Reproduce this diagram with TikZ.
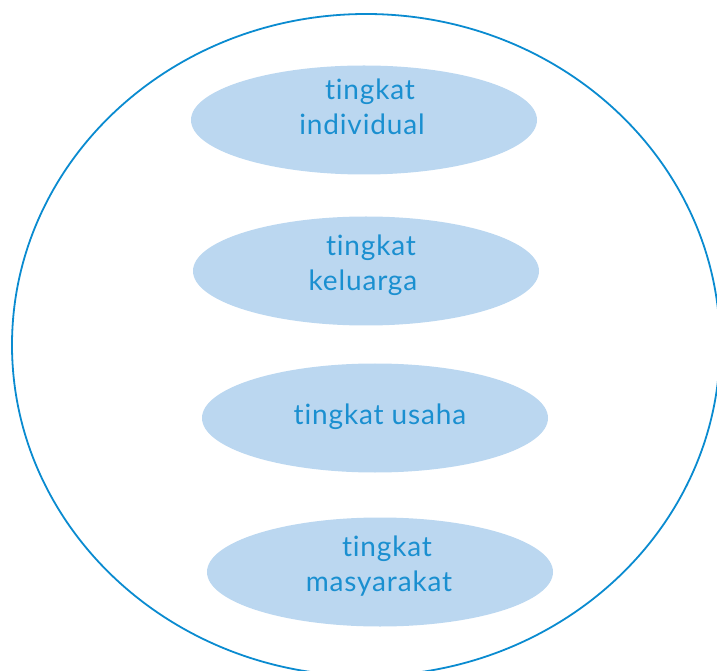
\documentclass[tikz,border=0pt]{standalone}
\usepackage{fontspec}
\setmainfont{Lato}[Ligatures=NoCommon, LetterSpace=3]
\usetikzlibrary{shapes.geometric}
\definecolor{lineblue}{HTML}{0A8BD0}
\definecolor{fillblue}{HTML}{BBD7F0}
\definecolor{textblue}{HTML}{1A8FD0}
\tikzset{
  level/.style={ellipse, fill=fillblue, draw=none, minimum width=346pt, minimum height=109pt, inner sep=0pt},
  lbl/.style={text=textblue, font=\fontsize{28}{35}\selectfont, inner sep=0pt, anchor=base}
}
\begin{document}
\begin{tikzpicture}[x=1pt,y=1pt]
\useasboundingbox (0,0) rectangle (717,670);
\begin{scope}
\clip (0,0) rectangle (717,670);
\node[ellipse, draw=lineblue, line width=1.8pt, minimum width=708pt, minimum height=662pt, inner sep=0pt] (outer) at (366,325) {};
\end{scope}
\node[level] (e1) at (364,550) {};
\node[level] (e2) at (366,399) {};
\node[level] (e3) at (375,252) {};
\node[level] (e4) at (380,98) {};
\node[lbl] (t1a) at (370,570) {tingkat};
\node[lbl] (t1b) at (362,535) {individual};
\node[lbl] (t2a) at (371,414) {tingkat};
\node[lbl] (t2b) at (363,379) {keluarga};
\node[lbl] (t3) at (380,246) {tingkat usaha};
\node[lbl] (t4a) at (387,114) {tingkat};
\node[lbl] (t4b) at (379,79) {masyarakat};
\end{tikzpicture}
\end{document}
